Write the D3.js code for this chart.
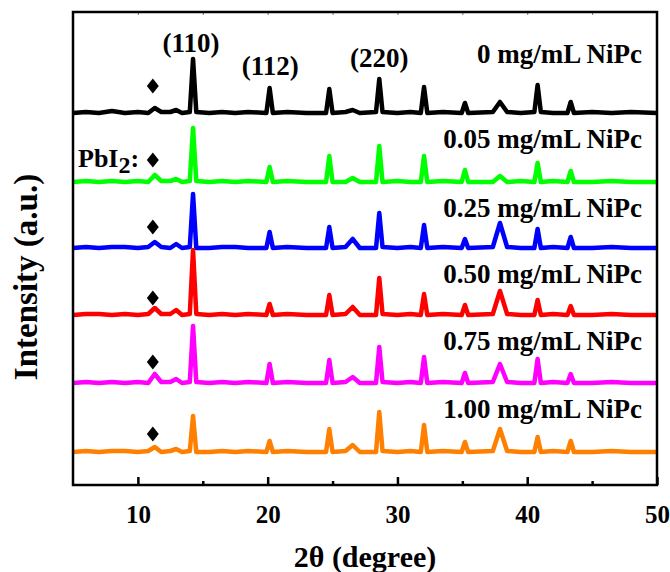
<!DOCTYPE html>
<html lang="en">
<head>
    <meta charset="UTF-8">
    <title>XRD patterns NiPc</title>
    <script src="https://cdn.jsdelivr.net/npm/d3@7/dist/d3.min.js"></script>
    <style>
        body { margin: 0; background: white; }
        .lbl { font-family: "Liberation Serif", "Times New Roman", serif; font-weight: bold; fill: black; }
    </style>
</head>
<body>
<svg id="xrd" width="670" height="572"></svg>
<script>
    // 2-theta sampling points (degrees), shared by every pattern
    const twoTheta = [5.0, 6.0, 7.0, 8.0, 9.0, 10.0,
        10.8, 11.3, 11.8,
        12.5, 12.95, 13.4,
        14.0, 14.25, 14.5,
        15.5, 16.5, 17.5, 18.5,
        19.9, 20.15, 20.4,
        21.5, 23.0,
        24.5, 24.75, 25.0,
        26.0, 26.55, 27.1,
        28.35, 28.6, 28.85,
        30.0, 31.0,
        31.8, 32.05, 32.3,
        33.5,
        34.95, 35.2, 35.45,
        37.35, 37.9, 38.45,
        39.5,
        40.55, 40.8, 41.05,
        42.0,
        43.1, 43.35, 43.6,
        45.0, 46.5, 48.0, 50.0];

    const sampleNames = ["0 mg/mL NiPc", "0.05 mg/mL NiPc", "0.25 mg/mL NiPc",
        "0.50 mg/mL NiPc", "0.75 mg/mL NiPc", "1.00 mg/mL NiPc"];

    // vertical stacking offset of each pattern (a.u.)
    const offsets = [372, 303, 237, 170, 102, 33];

    // intensities above each pattern's own baseline (a.u.)
    const int0 = [0,1,0,2,0,1, 0,5,1, 1,3,0, 1,54,1, 0,1,0,1, 0,25,0, 1,0, 0,24,0, 1,3,0,
        1,34,1, 0,1, 0,26,0, 1, 0,10,0, 1,11,1, 0, 1,28,1, 0, 0,11,0, 1,0,1,0];
    const int005 = [0,1,0,1,0,1, 0,7,1, 1,3,0, 1,54,1, 0,1,0,1, 0,15,0, 1,0, 0,26,0, 0,4,0,
        0,36,0, 1,0, 0,26,0, 1, 0,12,0, 0,6,0, 1, 0,19,0, 1, 0,11,0, 0,1,0,0];
    const int025 = [0,1,0,1,1,0, 1,6,1, 0,4,0, 1,54,0, 0,1,1,0, 0,16,0, 1,0, 0,21,0, 1,9,0,
        0,35,1, 0,1, 0,23,0, 1, 0,9,0, 1,25,1, 0, 0,19,0, 1, 0,11,0, 0,1,0,0];
    const int050 = [0,1,1,0,1,0, 1,7,1, 1,5,0, 1,65,1, 0,1,0,1, 0,11,0, 1,0, 0,20,0, 1,8,0,
        0,37,1, 0,1, 0,21,0, 1, 0,10,0, 1,24,1, 0, 0,15,0, 1, 0,9,0, 0,1,0,0];
    const int075 = [0,1,0,1,0,1, 0,9,1, 1,4,0, 1,57,1, 0,1,0,1, 0,19,0, 1,0, 0,23,0, 1,6,0,
        0,36,1, 0,1, 0,26,0, 1, 0,10,0, 1,19,1, 0, 0,24,0, 1, 0,9,0, 0,1,0,0];
    const int100 = [0,1,0,1,1,0, 1,5,0, 1,3,0, 1,36,0, 0,1,0,1, 0,11,0, 1,0, 0,23,0, 1,7,0,
        0,40,1, 0,1, 0,27,0, 1, 0,10,0, 1,23,1, 0, 0,15,0, 1, 0,11,0, 0,1,0,0];

    // PbI2 marker: position and height above each baseline
    const pbi2Theta = 11.15;
    const pbi2Heights = [27, 22, 21, 17, 21, 18];

    // Miller indices labelled on the top pattern
    const hklLabels = ["(110)", "(112)", "(220)"];
    const hklTheta = [14.1, 20.2, 28.6];

    const xTicks = [10, 20, 30, 40, 50];
    const xMinorTicks = [15, 25, 35, 45];

    const patterns = [int0, int005, int025, int050, int075, int100];
    const colors = ["#000000", "#00ff00", "#0000ff", "#ff0000", "#ff00ff", "#ff8000"];

    const margin = { top: 12, right: 13, bottom: 87, left: 73 };
    const width = 670 - margin.left - margin.right;
    const height = 572 - margin.top - margin.bottom;

    const svg = d3.select("#xrd");
    const chart = svg.append("g")
        .attr("transform", `translate(${margin.left},${margin.top})`);

    const x = d3.scaleLinear().domain([5, 50]).range([0, width]);
    const y = d3.scaleLinear().domain([0, 473]).range([height, 0]);

    // patterns
    const line = d3.line()
        .x(d => x(d[0]))
        .y(d => y(d[1]));

    patterns.forEach((vals, i) => {
        const pts = twoTheta.map((t, j) => [t, vals[j] + offsets[i]]);
        chart.append("path")
            .datum(pts)
            .attr("fill", "none")
            .attr("stroke", colors[i])
            .attr("stroke-width", 4.5)
            .attr("stroke-linejoin", "round")
            .attr("stroke-linecap", "butt")
            .attr("d", line);
    });

    // PbI2 diamonds
    const diamond = {
        draw(ctx, size) {
            const w = 6, h = 7.5;
            ctx.moveTo(0, -h);
            ctx.lineTo(w, 0);
            ctx.lineTo(0, h);
            ctx.lineTo(-w, 0);
            ctx.closePath();
        }
    };
    pbi2Heights.forEach((h, i) => {
        chart.append("path")
            .attr("d", d3.symbol().type(diamond)())
            .attr("transform", `translate(${x(pbi2Theta)},${y(offsets[i] + h)})`)
            .attr("fill", "black");
    });

    // sample labels
    sampleNames.forEach((name, i) => {
        const dy = i === 0 ? 50 : [34, 31, 32, 33, 34][i - 1];
        chart.append("text")
            .attr("class", "lbl")
            .attr("x", x(48.85))
            .attr("y", y(offsets[i]) - dy)
            .attr("text-anchor", "end")
            .style("font-size", "27px")
            .text(name);
    });

    // hkl labels
    const hklDy = [61, 38, 46];
    hklLabels.forEach((lab, i) => {
        chart.append("text")
            .attr("class", "lbl")
            .attr("x", x(hklTheta[i]))
            .attr("y", y(offsets[0]) - hklDy[i])
            .attr("text-anchor", "middle")
            .style("font-size", "27px")
            .text(lab);
    });

    // PbI2 legend text
    const pb = chart.append("text")
        .attr("class", "lbl")
        .attr("x", 5)
        .attr("y", y(offsets[1]) - 15)
        .style("font-size", "26px");
    pb.append("tspan").text("PbI");
    pb.append("tspan").attr("dy", 6).style("font-size", "24px").text("2");
    pb.append("tspan").attr("dy", -6).text(":");

    // axes
    const bottom = chart.append("g")
        .attr("transform", `translate(0,${height})`)
        .call(d3.axisBottom(x).tickValues(xTicks).tickSize(-8).tickPadding(20).tickFormat(d3.format("d")));
    bottom.selectAll("text").attr("class", "lbl").style("font-size", "25px");
    bottom.selectAll(".tick line").attr("stroke-width", 2.5);

    chart.append("g")
        .attr("transform", `translate(0,${height})`)
        .call(d3.axisBottom(x).tickValues(xMinorTicks).tickSize(-4).tickFormat(""))
        .call(g => g.select(".domain").remove())
        .selectAll(".tick line").attr("stroke-width", 2.5);

    chart.append("g")
        .call(d3.axisTop(x).tickValues(xTicks.concat(xMinorTicks)).tickSize(-3).tickFormat(""))
        .call(g => g.select(".domain").remove())
        .selectAll(".tick line").attr("stroke", "#777").attr("stroke-width", 1);

    // frame
    chart.append("rect")
        .attr("x", 0).attr("y", 0)
        .attr("width", width).attr("height", height)
        .attr("fill", "none")
        .attr("stroke", "black")
        .attr("stroke-width", 2.5);
    bottom.select(".domain").remove();

    // axis titles
    svg.append("text")
        .attr("class", "lbl")
        .attr("x", margin.left + width / 2)
        .attr("y", 567)
        .attr("text-anchor", "middle")
        .style("font-size", "30px")
        .text("2θ (degree)");

    svg.append("text")
        .attr("class", "lbl")
        .attr("transform", "translate(37,277) rotate(-90)")
        .attr("text-anchor", "middle")
        .style("font-size", "33px")
        .text("Intensity (a.u.)");
</script>
</body>
</html>
